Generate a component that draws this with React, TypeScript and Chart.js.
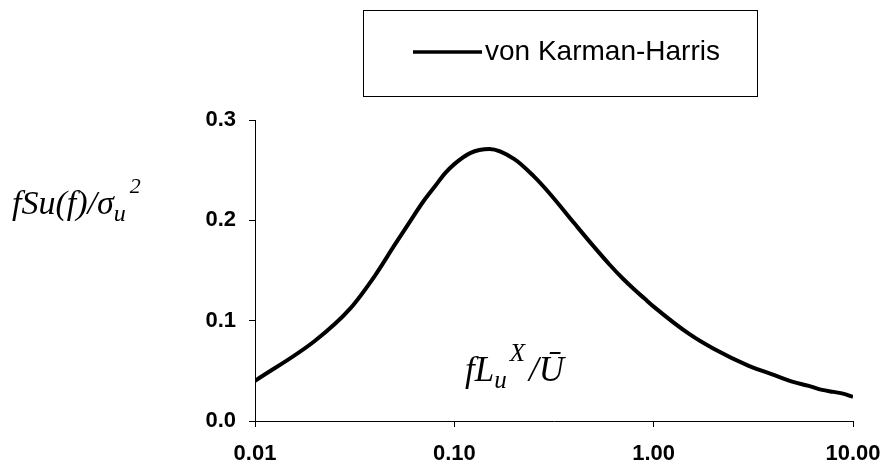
import React, { useEffect, useRef } from "react";
import { Chart, registerables } from "chart.js";

Chart.register(...registerables);

// Reduced frequency fLu/U (log axis) and normalised spectrum fSu(f)/σu²
const reducedFreq = [
  0.01, 0.02, 0.03, 0.04, 0.05, 0.06, 0.07, 0.08, 0.09, 0.1, 0.12, 0.15, 0.2,
  0.25, 0.3, 0.4, 0.5, 0.6, 0.7, 0.8, 0.9, 1.0, 1.5, 2, 3, 4, 5, 6, 7, 8, 9, 10,
];
const spectrum = [
  0.040, 0.080, 0.112, 0.145, 0.175, 0.199, 0.219, 0.234, 0.247, 0.256, 0.267,
  0.271, 0.261, 0.244, 0.227, 0.197, 0.174, 0.156, 0.142, 0.131, 0.122, 0.114,
  0.087, 0.072, 0.055, 0.046, 0.039, 0.035, 0.031, 0.029, 0.027, 0.024,
];
const xTickValues = [0.01, 0.1, 1, 10];
const yTickValues = [0, 0.1, 0.2, 0.3];
const seriesLabel = "von Karman-Harris";

const SERIF = "'Liberation Serif', 'Times New Roman', serif";
const SANS = "'Liberation Sans', Arial, sans-serif";

type Piece = { t: string; size: number; dy: number; gap?: number };

function drawPieces(ctx: CanvasRenderingContext2D, x: number, y: number, pieces: Piece[]) {
  let cx = x;
  for (const p of pieces) {
    ctx.font = `italic ${p.size}px ${SERIF}`;
    cx += p.gap || 0;
    ctx.fillText(p.t, cx, y + p.dy);
    cx += ctx.measureText(p.t).width;
  }
}

const annotations = {
  id: "annotations",
  afterDraw(chart: Chart) {
    const ctx = chart.ctx;
    ctx.save();
    ctx.fillStyle = "#000";
    ctx.textBaseline = "alphabetic";
    ctx.textAlign = "left";

    // y-axis title
    drawPieces(ctx, 12, 214, [
      { t: "fSu(f)/σ", size: 34, dy: 0 },
      { t: "u", size: 24, dy: 7 },
      { t: "2", size: 22, dy: -21, gap: 4 },
    ]);

    // x-axis title, placed inside the plot
    drawPieces(ctx, 465, 381, [
      { t: "fL", size: 35, dy: 0 },
      { t: "u", size: 25, dy: 7 },
      { t: "X", size: 25, dy: -20, gap: 3 },
      { t: "/Ū", size: 35, dy: 0, gap: 4 },
    ]);

    // legend box
    ctx.strokeStyle = "#000";
    ctx.lineWidth = 1;
    ctx.strokeRect(363.5, 10.5, 394, 86);
    ctx.lineWidth = 3.5;
    ctx.beginPath();
    ctx.moveTo(413, 52);
    ctx.lineTo(482, 52);
    ctx.stroke();
    ctx.font = `28px ${SANS}`;
    ctx.textBaseline = "middle";
    ctx.fillText(seriesLabel, 485, 52);
    ctx.restore();
  },
};

export default function App() {
  const ref = useRef<HTMLCanvasElement | null>(null);

  useEffect(() => {
    if (!ref.current) return;
    const chart = new Chart(ref.current, {
      type: "line",
      data: {
        datasets: [
          {
            label: seriesLabel,
            data: reducedFreq.map((x, i) => ({ x, y: spectrum[i] })),
            borderColor: "#000",
            borderWidth: 4,
            pointRadius: 0,
            cubicInterpolationMode: "monotone",
            fill: false,
          },
        ],
      },
      options: {
        animation: false,
        responsive: false,
        devicePixelRatio: 1,
        layout: { padding: { left: 195, right: 36, top: 120, bottom: 0 } },
        plugins: { legend: { display: false }, tooltip: { enabled: false } },
        scales: {
          x: {
            type: "logarithmic",
            min: 0.01,
            max: 10,
            afterBuildTicks: (scale: any) => {
              scale.ticks = xTickValues.map((v) => ({ value: v }));
            },
            afterFit: (scale: any) => {
              scale.height = 49;
              scale.paddingLeft = 0;
              scale.paddingRight = 0;
            },
            ticks: {
              color: "#000",
              font: { family: SANS, size: 22, weight: "bold" },
              padding: 14,
              maxRotation: 0,
              autoSkip: false,
              callback: (v: any) => Number(v).toFixed(2),
            },
            grid: { drawOnChartArea: false, drawTicks: true, tickLength: 6, color: "#000" },
            border: { display: true, color: "#000", width: 1 },
          },
          y: {
            min: 0,
            max: 0.3,
            afterBuildTicks: (scale: any) => {
              scale.ticks = yTickValues.map((v) => ({ value: v }));
            },
            afterFit: (scale: any) => {
              scale.width = 60;
            },
            ticks: {
              color: "#000",
              font: { family: SANS, size: 22, weight: "bold" },
              padding: 13,
              callback: (v: any) => Number(v).toFixed(1),
            },
            grid: { drawOnChartArea: false, drawTicks: true, tickLength: 6, color: "#000" },
            border: { display: true, color: "#000", width: 1 },
          },
        },
      },
      plugins: [annotations],
    });
    return () => chart.destroy();
  }, []);

  return (
    <div style={{ position: "absolute", left: 0, top: 0, width: 889, height: 470, background: "#fff" }}>
      <canvas ref={ref} width={889} height={470} />
    </div>
  );
}
